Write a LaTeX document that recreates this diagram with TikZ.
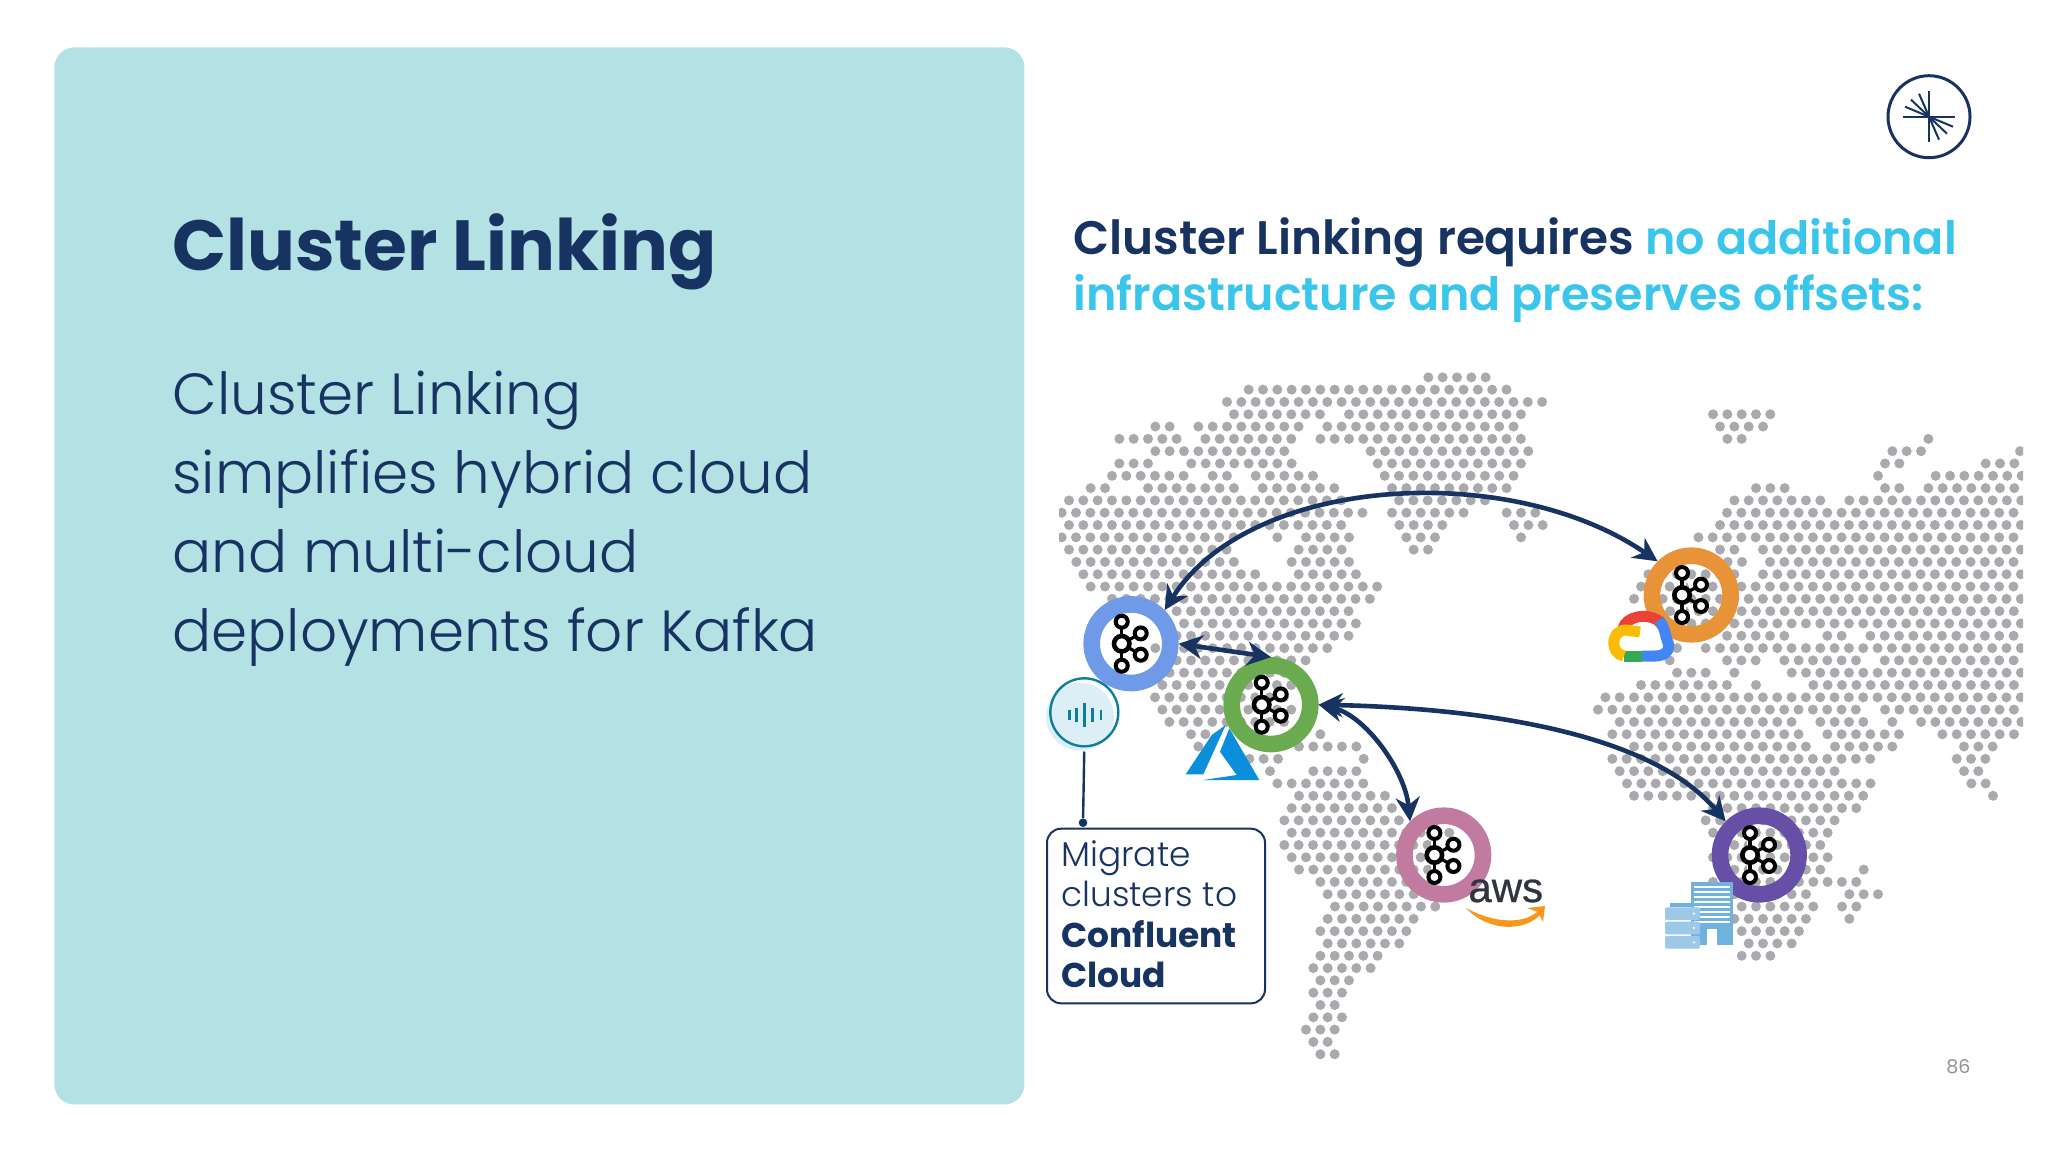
\documentclass[tikz,border=0pt]{standalone}
\usepackage{fontspec}
\usetikzlibrary{arrows.meta}
\setmainfont{Poppins}
\newfontfamily\lightfont{Poppins Light}
\newfontfamily\semifont{Poppins SemiBold}
\newfontfamily\awsfont[FakeBold=0.6]{Liberation Sans}

\definecolor{navy}{HTML}{173361}
\definecolor{skyline}{HTML}{3AC6EA}
\definecolor{panel}{HTML}{B4E1E4}
\definecolor{mapdot}{HTML}{A9A9AE}
\definecolor{teal}{HTML}{0F7E9B}
\definecolor{palesky}{HTML}{DCEFF6}
\definecolor{azureblue}{HTML}{0C8FDB}
\definecolor{awsorange}{HTML}{F7981D}
\definecolor{awsgrey}{HTML}{2E3440}
\definecolor{towerblue}{HTML}{6FB2E0}
\definecolor{rackblue}{HTML}{9CC9E8}
\definecolor{ringblue}{HTML}{6F9AE8}
\definecolor{ringgreen}{HTML}{6BAB4F}
\definecolor{ringorange}{HTML}{E89338}
\definecolor{ringpink}{HTML}{C27BA0}
\definecolor{ringpurple}{HTML}{674EA7}
\definecolor{pagegrey}{HTML}{8F9396}
\definecolor{gred}{HTML}{EA4335}
\definecolor{gblue}{HTML}{4285F4}
\definecolor{ggreen}{HTML}{34A853}
\definecolor{gyellow}{HTML}{FBBC05}

\newcommand{\maprows}[1]{%
  \foreach \r/\s/\n in {#1} {
    \foreach \k in {1,...,\n} {
      \fill[mapdot] ({1050+(\s+42.97*(\k-1))/3},{360+(52+36.92*\r)/3}) circle (5);
    }
  }
}

\begin{document}
\begin{tikzpicture}[x=0.5pt,y=-0.5pt,
    ring/.style={circle,draw=#1,line width=8.3pt,minimum size=39.3pt,inner sep=0pt},
    link/.style={draw=navy,line width=2.3pt,{Stealth[length=12pt,width=12pt]}-{Stealth[length=12pt,width=12pt]}},
    kafkaline/.style={draw=black,line width=2pt,fill=white},
    bigtext/.style={anchor=north west,inner sep=0pt,align=left,text=navy},
    kafkalogo/.pic={
      \draw[draw=white,line width=3.5pt] (-9.3,-22) -- (-9.3,22);
      \draw[draw=black,line width=1.6pt] (-9.3,-22) -- (-9.3,22);
      \draw[draw=black,line width=1.6pt] (9.7,-10.3) -- (-9.3,0) -- (9.7,11);
      \draw[kafkaline,line width=2.3pt] (-9.3,0) circle (7.7);
      \draw[kafkaline] (-9.3,-22) circle (6);
      \draw[kafkaline] (-9.3,22) circle (6);
      \draw[kafkaline] (9.7,-10.3) circle (6);
      \draw[kafkaline] (9.7,11) circle (6);
    }]

  \useasboundingbox (0,0) rectangle (2048,1152);
  \fill[white] (0,0) rectangle (2048,1152);

  \node[fill=panel,rounded corners=10pt,minimum width=485pt,minimum height=528.5pt,inner sep=0pt,anchor=north west] (leftpanel) at (54,47) {};

  \node[bigtext,font=\fontsize{35.5}{40}\selectfont\bfseries] (title) at (172,213) {Cluster Linking};
  \node[bigtext,font=\fontsize{29}{39.5}\selectfont\lightfont] (body) at (172,370)
  {Cluster Linking \\
    simplifies hybrid cloud \\
    and multi-cloud \\
    deployments for Kafka};

  \node[bigtext,font=\fontsize{23}{28.25}\selectfont\semifont] (heading) at (1073,217)
  {{\fontsize{23.5}{28.25}\selectfont Cluster Linking requires} \textcolor{skyline}{no additional} \\
    \textcolor{skyline}{infrastructure and preserves offsets:}};

  \node[circle,draw=navy,line width=1.5pt,minimum size=41pt,inner sep=0pt] (clogo) at (1929,116.7) {};
  \draw[navy,line width=1pt] (1929,91) -- (1929,142);
  \draw[navy,line width=1pt] (1903,116.7) -- (1955,116.7);
  \foreach \dx/\dy in {-10/-23,-18/-17,-24/-10,10/23,18/17,24/10} {
    \draw[navy,line width=1pt] (clogo.center) -- ++(\dx,\dy);
  }

  \begin{scope}
    \clip (1059,360) rectangle (2023,1100);
    \maprows{0/1135/5,1/596/19,2/531/23,3/552/7,3/897/13,4/316/2,4/445/8,4/832/14,
      5/208/5,5/466/7,5/811/15,6/316/10,6/962/12,7/208/3,7/424/8,7/983/11,
      8/186/6,8/488/2,8/617/5,8/1004/10,9/122/2,9/294/7,9/638/6,9/1026/9,
      10/57/20,10/1047/7,11/35/22,11/1026/6,11/1370/3,12/57/20,12/1048/4,12/1392/3,
      13/35/13,13/682/1,13/768/4,13/1069/3,13/1413/1,14/57/12,14/746/4,14/1091/2,
      15/79/12,15/725/5,16/100/13,16/746/5,17/122/21,18/186/19,19/380/13,20/402/13,
      21/380/13,22/316/1,22/402/11,23/380/10,24/359/10,25/337/10,26/315/10,27/337/10,
      28/358/9,29/423/2,29/811/1,30/445/1,30/747/5,31/598/3,31/941/1,32/660/1,32/790/4,
      33/682/7,34/747/7,35/725/8,36/703/9,37/725/12,38/703/11,39/725/10,40/747/10,
      41/811/7,42/833/7,43/855/8,44/833/7,45/811/7,46/833/6,47/811/5,48/790/5,
      49/811/3,50/790/3,51/811/2,52/790/3,53/768/3,54/790/2,55/811/2}
    \maprows{3/1989/5,4/2010/4,5/2032/2,5/2635/1,6/2527/3,6/2910/1,7/2505/2,7/2807/3,
      8/2484/1,8/2657/7,9/2118/3,9/2505/2,9/2635/7,10/2053/7,10/2398/13,11/2031/21,
      12/2010/22,13/1945/23,14/2010/2,14/2139/19,15/2033/2,15/2160/18,16/1795/7,16/2139/19,
      17/1773/27,18/1752/28,19/1860/25,20/1881/25,21/2031/5,21/2332/2,21/2461/11,
      22/1881/1,22/1967/23,23/1859/1,23/2031/3,23/2203/6,23/2504/10,24/1881/3,24/2053/1,
      24/2225/17,25/1773/7,25/2118/1,25/2290/15,26/1666/30,27/1644/19,27/2505/10,
      28/1709/13,28/2311/4,28/2527/1,28/2613/8,29/1687/14,29/2332/6,29/2677/6,
      30/1752/13,30/2355/5,30/2742/3,31/1687/19,31/2720/3,32/1709/16,32/2742/2,
      33/1731/18,33/2764/2,34/1752/17,34/2829/1,35/1989/11,36/1967/10,37/1989/9,
      38/2010/8,39/1989/9,40/2010/8,40/2441/1,41/1989/11,42/2010/7,42/2398/3,
      43/2032/7,43/2376/2,44/2053/6,44/2398/1,45/2075/5,46/2096/4,47/2075/3}
  \end{scope}

  \fill[azureblue] (1185.7,774.3) -- (1203.3,774.3) -- (1225.7,725) -- (1211.7,735) -- cycle;
  \fill[azureblue] (1229.3,728.3) -- (1259.3,780) -- (1203.3,780) -- (1236.7,775) -- (1220,751.7) -- cycle;

  \node[ring=ringblue] (kblue) at (1131,643.7) {};
  \node[ring=ringgreen] (kgreen) at (1271,704.7) {};
  \node[ring=ringorange] (korange) at (1691.3,595) {};
  \node[ring=ringpink] (kpink) at (1443.7,855) {};
  \node[ring=ringpurple] (kpurple) at (1759.3,855) {};

  \foreach \k in {kblue,kgreen,korange,kpink,kpurple} {
    \pic at (\k.center) {kafkalogo};
  }

  \draw[link] (kblue.45) .. controls (1250,475) and (1510,460) .. (korange.135);
  \draw[link] (kblue.east) -- (kgreen.north);
  \draw[link] (kgreen.east) .. controls (1365,715) and (1405,770) .. (kpink.135);
  \draw[link] (kgreen.east) .. controls (1480,708) and (1650,732) .. (kpurple.135);

  \fill[white] (1640,637) circle (8);
  \fill[white,rounded corners=2.5pt] (1620,640) rectangle (1664,652);
  \draw[line width=5.5pt,gred] (1623,628.3) .. controls (1626,616.7) and (1646.7,611.7) .. (1660,621.7);
  \draw[line width=5.5pt,gblue] (1659,620) .. controls (1665,628) and (1665,634) .. (1667,640) .. controls (1672,650) and (1665,656) .. (1655,656) -- (1641.7,656);
  \draw[line width=5.5pt,ggreen] (1641.7,656) -- (1624,656);
  \draw[line width=5.5pt,gyellow] (1624,656) .. controls (1610,654) and (1610,630) .. (1626,630) -- (1640,632);

  \node[font=\fontsize{21}{24}\selectfont\awsfont,text=awsgrey,inner sep=0pt,anchor=base west] (aws) at (1468,902) {aws};
  \fill[awsorange] (1466,908) .. controls (1495,924) and (1525,924) .. (1538,911) -- (1541,914) .. controls (1525,932) and (1488,932) .. (1466,908) -- cycle;
  \fill[awsorange] (1527,908) -- (1545,906) -- (1543,922) -- (1538,912) -- cycle;

  \fill[towerblue] (1690.7,882.3) rectangle (1733.3,945);
  \foreach \y in {886,891,896,901,906,911,916,921} {
    \fill[white] (1693.5,\y) rectangle (1730,\y+1.8);
  }
  \fill[white] (1706.7,929) rectangle (1716.7,945);
  \fill[towerblue] (1670,902.7) rectangle (1692,907);
  \foreach \y in {907.3,921.7,936} {
    \fill[rackblue,rounded corners=1pt] (1665,\y) rectangle (1700,\y+12.7);
    \fill[white] (1694,\y+6.3) circle (1.2);
  }

  \fill[palesky] (1080,716.7) circle (34);
  \node[circle,draw=teal,line width=1.2pt,minimum size=34pt,inner sep=0pt] (kicon) at (1084.3,712.3) {};
  \foreach \x/\h in {1069.3/4.7,1076.7/7.3,1084.3/12.3,1092.3/7.3,1101/4.7} {
    \draw[teal,line width=1.3pt] (\x,715-\h) -- (\x,715+\h);
  }

  \node[draw=navy,line width=1pt,rounded corners=7pt,minimum width=109pt,minimum height=87.3pt,inner sep=0pt,anchor=north west] (migrate) at (1046,827.7) {};
  \node[bigtext,font=\fontsize{17.2}{20.2}\selectfont] (migratetext) at (1061,840)
  {\lightfont Migrate \\
    \lightfont clusters to \\
    \textbf{Confluent} \\
    \textbf{Cloud}};

  \node[circle,fill=navy,minimum size=4.3pt,inner sep=0pt] (pin) at (1083,822.7) {};
  \draw[navy,line width=1.2pt,shorten <=2pt] (kicon.south) -- (pin);

  \node[font=\fontsize{9.5}{12}\selectfont,text=pagegrey,inner sep=0pt,anchor=base west] (pagenum) at (1946,1073) {86};

\end{tikzpicture}
\end{document}
